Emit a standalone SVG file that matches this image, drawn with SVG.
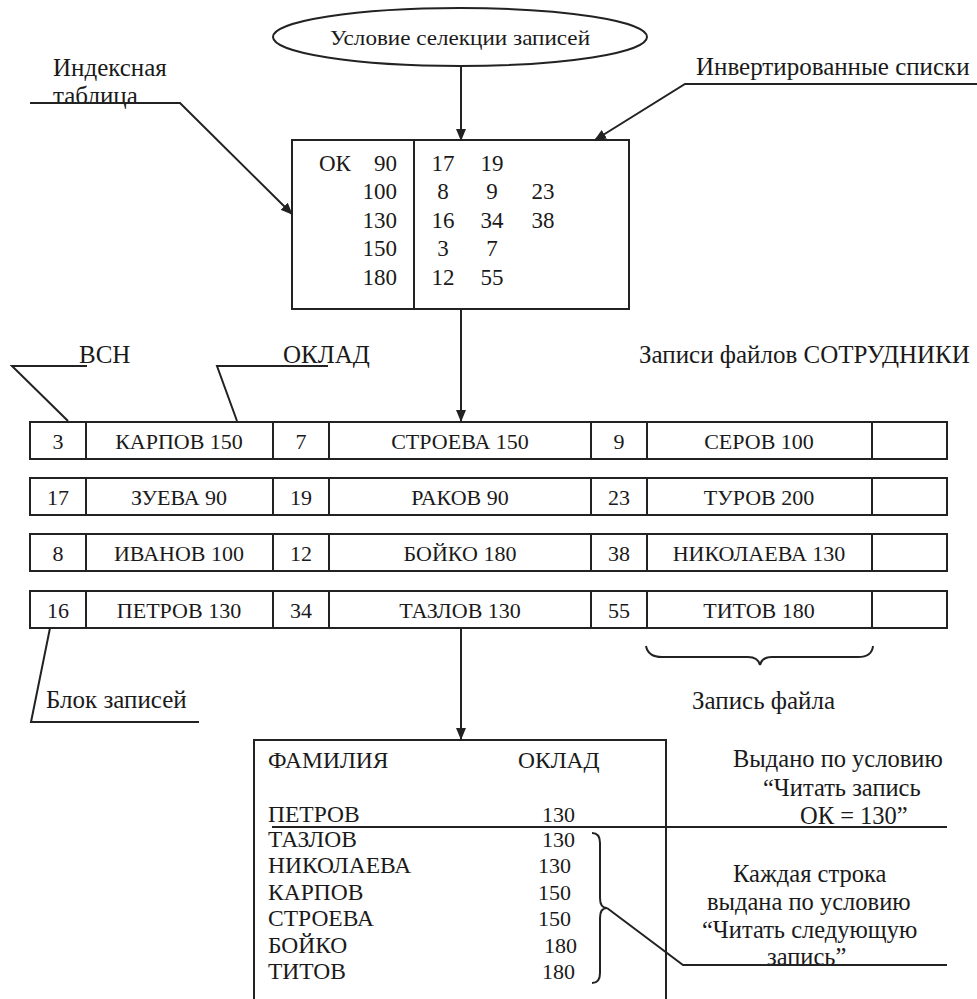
<svg xmlns="http://www.w3.org/2000/svg" width="977" height="999" viewBox="0 0 977 999">
  <style>
    .ln { fill: none; stroke: #222; stroke-width: 2; }
    .box { fill: #fff; stroke: #222; stroke-width: 2; }
    text { font-family: 'Liberation Serif', 'DejaVu Serif', serif; fill: #1a1a1a; }
    .lbl { font-size: 25px; }
    .cell { font-size: 22px; text-anchor: middle; }
    .idx { font-size: 23px; }
    .res { font-size: 23.5px; }
    .num { font-size: 22px; }
    .note { font-size: 24.5px; }
  </style>
  <defs>
    <marker id="arrow" markerWidth="12" markerHeight="10" refX="11" refY="5" orient="auto" markerUnits="userSpaceOnUse">
      <path d="M0,0 L12,5 L0,10 Z" fill="#222"/>
    </marker>
  </defs>
  <rect width="977" height="999" fill="#fff"/>

  <!-- selection condition -->
  <g id="condition">
    <ellipse cx="460" cy="37" rx="187" ry="29" class="box"/>
    <text x="330" y="45" font-size="22" textLength="260" lengthAdjust="spacingAndGlyphs">Условие селекции записей</text>
  </g>

  <!-- index table with inverted lists -->
  <g id="index-table">
    <rect x="292" y="140" width="337" height="169" class="box"/>
    <line x1="414" y1="140" x2="414" y2="309" class="ln"/>
    <text x="319" y="171" class="idx">ОК</text>
    <g text-anchor="end">
      <text x="397" y="171" class="idx">90</text>
      <text x="397" y="199" class="idx">100</text>
      <text x="397" y="228" class="idx">130</text>
      <text x="397" y="256" class="idx">150</text>
      <text x="397" y="285" class="idx">180</text>
    </g>
    <g text-anchor="middle">
      <text x="443" y="171" class="idx">17</text>
      <text x="492" y="171" class="idx">19</text>
      <text x="443" y="199" class="idx">8</text>
      <text x="492" y="199" class="idx">9</text>
      <text x="543" y="199" class="idx">23</text>
      <text x="443" y="228" class="idx">16</text>
      <text x="492" y="228" class="idx">34</text>
      <text x="543" y="228" class="idx">38</text>
      <text x="443" y="256" class="idx">3</text>
      <text x="492" y="256" class="idx">7</text>
      <text x="443" y="285" class="idx">12</text>
      <text x="492" y="285" class="idx">55</text>
    </g>
  </g>

  <!-- callout labels -->
  <g id="label-index">
    <text x="53" y="76" class="lbl">Индексная</text>
    <text x="53" y="104" class="lbl">таблица</text>
  </g>
  <g id="label-inverted">
    <text x="696" y="75" class="lbl">Инвертированные списки</text>
  </g>
  <g id="label-vsn">
    <text x="79" y="363" class="lbl">ВСН</text>
  </g>
  <g id="label-oklad">
    <text x="283" y="363" class="lbl">ОКЛАД</text>
  </g>
  <g id="label-records">
    <text x="639" y="363" class="lbl">Записи файлов СОТРУДНИКИ</text>
  </g>
  <g id="label-block">
    <text x="46" y="708" class="lbl" font-size="26">Блок записей</text>
  </g>
  <g id="label-record">
    <text x="692" y="709" class="lbl">Запись файла</text>
  </g>

  <!-- record blocks of file СОТРУДНИКИ -->
  <g id="block-1">
    <rect x="30" y="422" width="917" height="37" class="box"/>
    <path d="M86,422 V459 M273,422 V459 M329,422 V459 M591,422 V459 M647,422 V459 M872,422 V459" class="ln"/>
    <text x="58" y="449" class="cell">3</text>
    <text x="179" y="449" class="cell">КАРПОВ 150</text>
    <text x="301" y="449" class="cell">7</text>
    <text x="460" y="449" class="cell">СТРОЕВА 150</text>
    <text x="619" y="449" class="cell">9</text>
    <text x="759" y="449" class="cell">СЕРОВ 100</text>
  </g>
  <g id="block-2">
    <rect x="30" y="478" width="917" height="37" class="box"/>
    <path d="M86,478 V515 M273,478 V515 M329,478 V515 M591,478 V515 M647,478 V515 M872,478 V515" class="ln"/>
    <text x="58" y="505" class="cell">17</text>
    <text x="179" y="505" class="cell">ЗУЕВА 90</text>
    <text x="301" y="505" class="cell">19</text>
    <text x="460" y="505" class="cell">РАКОВ 90</text>
    <text x="619" y="505" class="cell">23</text>
    <text x="759" y="505" class="cell">ТУРОВ 200</text>
  </g>
  <g id="block-3">
    <rect x="30" y="534" width="917" height="37" class="box"/>
    <path d="M86,534 V571 M273,534 V571 M329,534 V571 M591,534 V571 M647,534 V571 M872,534 V571" class="ln"/>
    <text x="58" y="561" class="cell">8</text>
    <text x="179" y="561" class="cell">ИВАНОВ 100</text>
    <text x="301" y="561" class="cell">12</text>
    <text x="460" y="561" class="cell">БОЙКО 180</text>
    <text x="619" y="561" class="cell">38</text>
    <text x="759" y="561" class="cell">НИКОЛАЕВА 130</text>
  </g>
  <g id="block-4">
    <rect x="30" y="591" width="917" height="37" class="box"/>
    <path d="M86,591 V628 M273,591 V628 M329,591 V628 M591,591 V628 M647,591 V628 M872,591 V628" class="ln"/>
    <text x="58" y="618" class="cell">16</text>
    <text x="179" y="618" class="cell">ПЕТРОВ 130</text>
    <text x="301" y="618" class="cell">34</text>
    <text x="460" y="618" class="cell">ТАЗЛОВ 130</text>
    <text x="619" y="618" class="cell">55</text>
    <text x="759" y="618" class="cell">ТИТОВ 180</text>
  </g>

  <!-- output listing -->
  <g id="output">
    <path d="M254,1002 V740 H666 V1002" class="box"/>
    <text x="268" y="768" class="res">ФАМИЛИЯ</text>
    <text x="518" y="768" class="res">ОКЛАД</text>
    <text x="268" y="822" class="res">ПЕТРОВ</text>
    <text x="268" y="847" class="res">ТАЗЛОВ</text>
    <text x="268" y="873" class="res">НИКОЛАЕВА</text>
    <text x="268" y="900" class="res">КАРПОВ</text>
    <text x="268" y="926" class="res">СТРОЕВА</text>
    <text x="268" y="953" class="res">БОЙКО</text>
    <text x="268" y="979" class="res">ТИТОВ</text>
    <text x="542" y="822" class="num">130</text>
    <text x="542" y="847" class="num">130</text>
    <text x="538" y="873" class="num">130</text>
    <text x="538" y="900" class="num">150</text>
    <text x="538" y="926" class="num">150</text>
    <text x="544" y="953" class="num">180</text>
    <text x="542" y="979" class="num">180</text>
  </g>

  <g id="note-first">
    <text x="733" y="767" class="note">Выдано по условию</text>
    <text x="763" y="796" class="note">“Читать запись</text>
    <text x="800" y="824" class="note">ОК = 130”</text>
  </g>
  <g id="note-next">
    <text x="733" y="882" class="note">Каждая строка</text>
    <text x="707" y="910" class="note">выдана по условию</text>
    <text x="702" y="938" class="note">“Читать следующую</text>
    <text x="767" y="965" class="note">запись”</text>
  </g>

  <!-- connectors, leader lines and braces -->
  <g id="connectors">
    <line x1="461" y1="66" x2="461" y2="140" class="ln" marker-end="url(#arrow)"/>
    <line x1="461" y1="309" x2="461" y2="421" class="ln" marker-end="url(#arrow)"/>
    <line x1="461" y1="628" x2="461" y2="739" class="ln" marker-end="url(#arrow)"/>
    <polyline points="30,103 180,103 292,214" class="ln" marker-end="url(#arrow)"/>
    <polyline points="977,84 685,84 595,140" class="ln" marker-end="url(#arrow)"/>
    <polyline points="87,366 12,366 68,421" class="ln"/>
    <polyline points="328,366 217,366 237,421" class="ln"/>
    <polyline points="50,628 31,722 199,722" class="ln"/>
    <path d="M646,646 Q648,657 662,657 L748,657 Q758,657 760,665 Q762,657 772,657 L858,657 Q872,657 873,646" class="ln"/>
    <line x1="272" y1="827" x2="947" y2="827" class="ln"/>
    <path d="M592,833 Q600,833 600,843 L600,898 Q600,908 607,908 Q600,908 600,918 L600,973 Q600,983 592,983" class="ln"/>
    <polyline points="607,908 683,965 947,965" class="ln"/>
  </g>
</svg>
